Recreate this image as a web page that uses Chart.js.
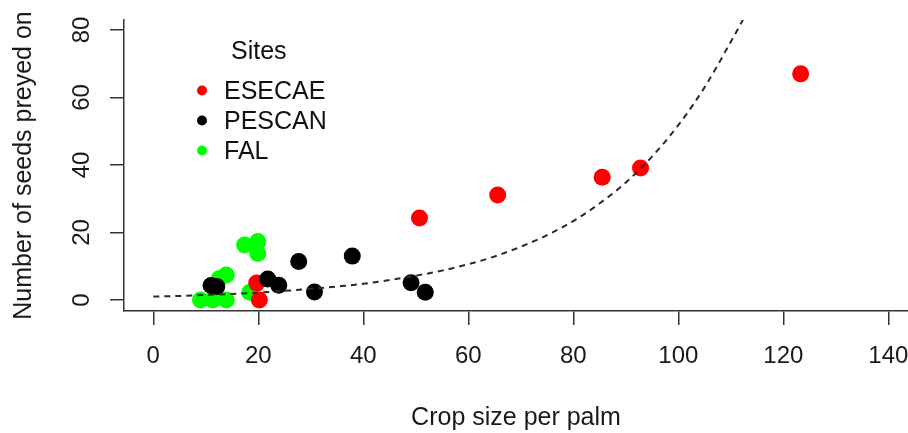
<!DOCTYPE html>
<html>
<head>
<meta charset="utf-8">
<script src="https://cdn.jsdelivr.net/npm/chart.js@4.4.0/dist/chart.umd.min.js"></script>
<style>
  html, body { margin: 0; padding: 0; background: #fff; }
  canvas { display: block; }
</style>
</head>
<body>
<canvas id="myChart" width="908" height="433"></canvas>
<script>
// values
const sites = ['ESECAE', 'PESCAN', 'FAL'];
const siteColors = ['#ff0000', '#000000', '#00ff00'];

const esecaeCrop  = [19.7, 20.2, 50.7, 65.6, 85.5, 92.8, 123.3];
const esecaeSeeds = [5.0, 0, 24.3, 31.1, 36.4, 39.1, 67.0];
const pescanCrop  = [11.0, 12.1, 21.8, 23.9, 27.7, 30.7, 37.9, 49.1, 51.8];
const pescanSeeds = [4.3, 4.0, 6.2, 4.4, 11.4, 2.4, 13.0, 5.1, 2.3];
const falCrop  = [9.0, 11.3, 13.9, 12.6, 13.9, 17.4, 19.9, 19.9, 18.4];
const falSeeds = [0, 0, 0, 6.4, 7.4, 16.3, 17.3, 13.8, 2.3];

// dashed fitted curve, read every 5 units of crop size
const curveCrop  = [0, 5, 10, 15, 20, 25, 30, 35, 40, 45, 50, 55, 60, 65, 70, 75, 80, 85, 90, 95, 100, 105, 110, 113];
const curveSeeds = [1.0, 1.2, 1.5, 1.8, 2.2, 2.7, 3.3, 4.0, 4.8, 5.9, 7.2, 8.7, 10.6, 12.9, 15.8, 19.2, 23.4, 28.6, 34.8, 42.5, 51.8, 63.0, 76.5, 85.0];

const xTicks = [0, 20, 40, 60, 80, 100, 120, 140];
const yTicks = [0, 20, 40, 60, 80];

const sans = '"Liberation Sans", Arial, sans-serif';
const toPoints = (xs, ys) => xs.map((x, i) => ({x: x, y: ys[i]}));

// R-style legend drawn inside the plot
const siteLegend = {
  id: 'siteLegend',
  afterDatasetsDraw(chart) {
    const ctx = chart.ctx;
    ctx.save();
    ctx.font = '25px ' + sans;
    ctx.textBaseline = 'middle';
    ctx.fillStyle = '#111';
    ctx.fillText('Sites', 231, 52);
    sites.forEach((s, i) => {
      const y = 92 + i * 30;
      ctx.beginPath();
      ctx.fillStyle = siteColors[i];
      ctx.arc(202, y - 1.5, 5, 0, Math.PI * 2);
      ctx.fill();
      ctx.fillStyle = '#111';
      ctx.fillText(s, 224, y);
    });
    ctx.restore();
  }
};

const axisGrid = { drawOnChartArea: false, drawTicks: true, tickLength: 14, color: '#333', lineWidth: 1.5 };
const axisBorder = { display: true, color: '#333', width: 1.5 };

const config = {
  type: 'scatter',
  data: {
    datasets: [
      {
        label: 'fit',
        data: toPoints(curveCrop, curveSeeds),
        showLine: true,
        borderColor: '#2a2a2a',
        borderWidth: 2,
        borderDash: [6, 5],
        pointRadius: 0,
        cubicInterpolationMode: 'monotone',
        fill: false
      },
      {
        label: sites[1],
        data: toPoints(pescanCrop, pescanSeeds),
        backgroundColor: siteColors[1],
        borderWidth: 0,
        pointRadius: 8.5
      },
      {
        label: sites[0],
        data: toPoints(esecaeCrop, esecaeSeeds),
        backgroundColor: siteColors[0],
        borderWidth: 0,
        pointRadius: 8.5
      },
      {
        label: sites[2],
        data: toPoints(falCrop, falSeeds),
        backgroundColor: siteColors[2],
        borderWidth: 0,
        pointRadius: 8.5
      }
    ]
  },
  options: {
    responsive: false,
    animation: false,
    events: [],
    layout: { autoPadding: false, padding: { top: 20, left: 0, right: 0, bottom: 0 } },
    plugins: { legend: { display: false }, tooltip: { enabled: false } },
    scales: {
      x: {
        type: 'linear',
        min: -5.58,
        max: 143.75,
        afterBuildTicks: s => { s.ticks = xTicks.map(v => ({value: v})); },
        afterFit: s => { s.height = 122; s.paddingLeft = 0; s.paddingRight = 0; },
        grid: axisGrid,
        border: axisBorder,
        ticks: { color: '#1a1a1a', font: { family: sans, size: 24 }, padding: 17, maxRotation: 0, autoSkip: false },
        title: { display: true, text: 'Crop size per palm', color: '#1a1a1a', font: { family: sans, size: 25 }, padding: { top: 0, bottom: 0 } }
      },
      y: {
        type: 'linear',
        min: -3.26,
        max: 82.96,
        afterBuildTicks: s => { s.ticks = yTicks.map(v => ({value: v})); },
        afterFit: s => { s.width = 124; s.paddingTop = 0; s.paddingBottom = 0; },
        grid: axisGrid,
        border: axisBorder,
        ticks: { color: '#1a1a1a', font: { family: sans, size: 24 }, padding: 14, minRotation: 90, maxRotation: 90, crossAlign: 'center', autoSkip: false },
        title: { display: true, text: 'Number of seeds preyed on', color: '#1a1a1a', font: { family: sans, size: 25 }, padding: { top: 9, bottom: 0 } }
      }
    }
  },
  plugins: [siteLegend]
};

new Chart(document.querySelector('#myChart'), config);
</script>
</body>
</html>
